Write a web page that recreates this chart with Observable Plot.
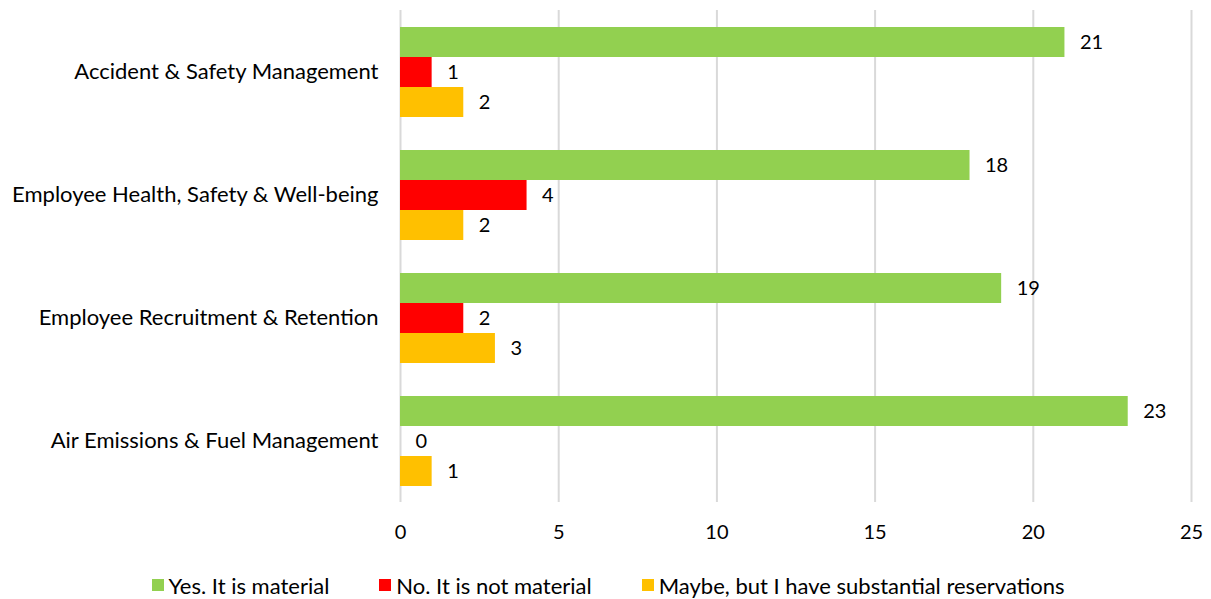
<!DOCTYPE html>
<html>
<head>
<meta charset="utf-8">
<script src="https://cdn.jsdelivr.net/npm/d3@7"></script>
<script src="https://cdn.jsdelivr.net/npm/@observablehq/plot@0.6"></script>
<style>
  body { margin: 0; background: #fff; font-family: Lato, sans-serif; }
  #legend { display: flex; justify-content: center; gap: 50px; margin-top: 22px; font-size: 22px; color: #000; height: 26px; align-items: center; padding-left: 5px; }
  .item { display: flex; align-items: center; gap: 5px; }
  .sw { width: 12px; height: 12px; display: inline-block; }
</style>
</head>
<body>
<div id="chart"></div>
<div id="legend"></div>
<script>
const categories = ["Accident & Safety Management", "Employee Health, Safety & Well-being", "Employee Recruitment & Retention", "Air Emissions & Fuel Management"];
const series = ["Yes. It is material", "No. It is not material", "Maybe, but I have substantial reservations"];
const yesValues = [21, 18, 19, 23];
const noValues = [1, 4, 2, 0];
const maybeValues = [2, 2, 3, 1];
const colors = ["#92d050", "#ff0000", "#ffc000"];
const xTicks = [0, 5, 10, 15, 20, 25];

const seriesValues = [yesValues, noValues, maybeValues];
const data = categories.flatMap((c, i) => series.map((s, j) => ({category: c, series: s, value: seriesValues[j][i]})));

const chart = Plot.plot({
  width: 1211, height: 550,
  marginTop: 10, marginBottom: 48, marginLeft: 400, marginRight: 20,
  style: {fontFamily: "Lato, sans-serif", fontSize: "20px", color: "#000", background: "#fff"},
  x: {domain: [0, 25], ticks: xTicks, tickSize: 0, tickPadding: 38, label: null},
  y: {domain: series, axis: null, padding: 0},
  fy: {domain: categories, paddingInner: 0.26, paddingOuter: 0.13, label: null, tickSize: 0, tickPadding: 22, axis: "left"},
  color: {domain: series, range: colors},
  marks: [
    Plot.ruleX(xTicks, {x: d => d, stroke: "#d9d9d9", strokeWidth: 2, insetTop: -16, insetBottom: -16}),
    Plot.barX(data, {x: "value", y: "series", fy: "category", fill: "series"}),
    Plot.text(data, {x: "value", y: "series", fy: "category", text: d => String(d.value), textAnchor: "start", dx: 15, fill: "#000"})
  ]
});
document.getElementById("chart").append(chart);
// enlarge category labels
chart.querySelectorAll('[aria-label="fy-axis tick label"] text').forEach(t => t.style.fontSize = "22px");

const legend = document.getElementById("legend");
series.forEach((s, j) => {
  const item = document.createElement("div");
  item.className = "item";
  const sw = document.createElement("span");
  sw.className = "sw";
  sw.style.background = colors[j];
  const t = document.createElement("span");
  t.textContent = s;
  item.append(sw, t);
  legend.append(item);
});
</script>
</body>
</html>
